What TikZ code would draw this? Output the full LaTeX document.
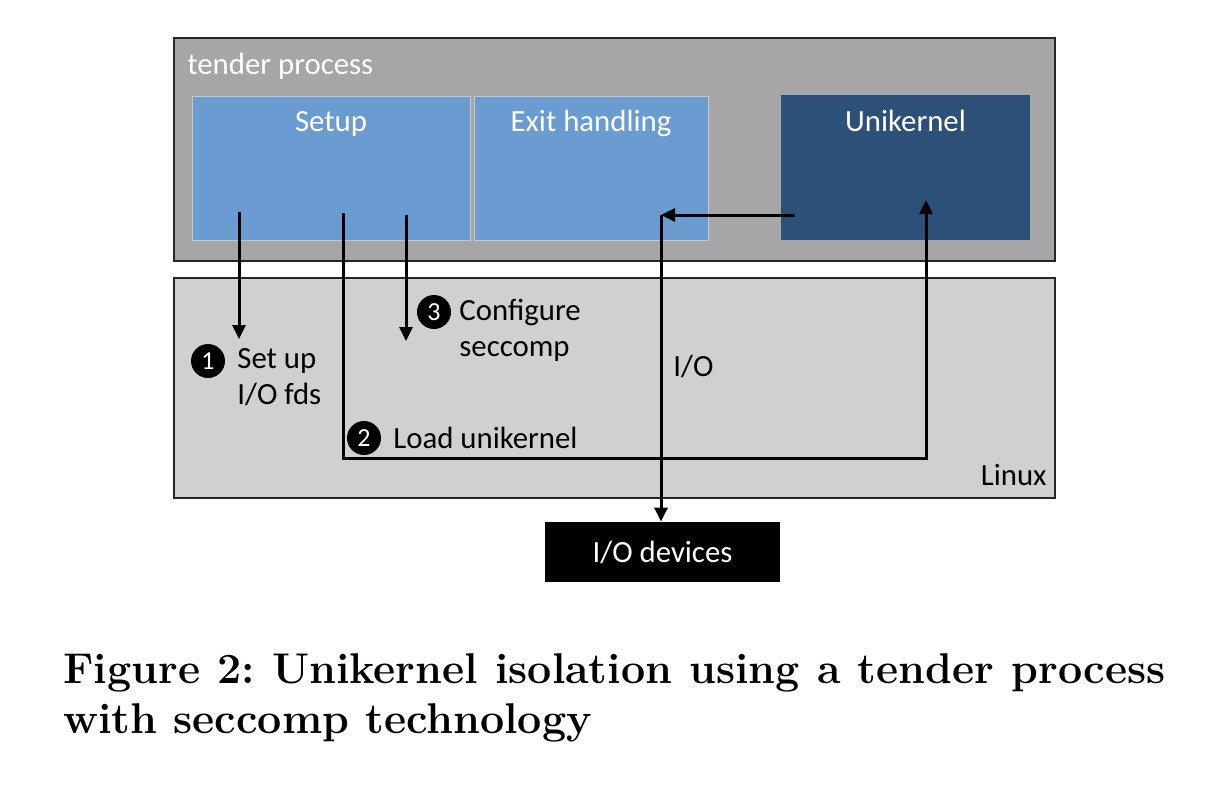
\documentclass[tikz,border=0pt]{standalone}
\usepackage{fontspec}
\usepackage{tikz}
\usetikzlibrary{arrows.meta}
\newfontfamily\carlito{Carlito}
\definecolor{tendergray}{HTML}{A6A6A6}
\definecolor{linuxgray}{HTML}{D0D0D0}
\definecolor{setupblue}{HTML}{6A9BD1}
\definecolor{ukblue}{HTML}{2D5079}
\definecolor{edgegray}{HTML}{C8C8C8}
\frenchspacing
\begin{document}
\begin{tikzpicture}[x=0.5pt,y=-0.5pt,
  font=\carlito\fontsize{15.4}{18}\selectfont,
  layer/.style={draw=black!85,line width=0.8pt,inner sep=0pt},
  part/.style={inner sep=0pt,minimum height=72pt},
  flow/.style={line width=1.5pt},
  tip/.style={-{Triangle[length=7pt,width=6.5pt]}},
  num/.style={circle,fill=black,text=white,inner sep=0pt,minimum size=17pt,font=\carlito\fontsize{13}{13}\selectfont},
  lbl/.style={anchor=base west,inner sep=0pt},
  caption/.style={anchor=base west,inner sep=0pt,font=\bfseries\fontsize{21.5}{26}\selectfont}]
  \useasboundingbox (0,0) rectangle (1206,784);
  % layers
  \node[layer,fill=tendergray,minimum width=440.5pt,minimum height=111.5pt] (tender) at (614.5,149.5) {};
  \node[layer,fill=linuxgray,minimum width=440.5pt,minimum height=110pt] (linux) at (614.5,388) {};
  \node[lbl,text=white] (tenderlbl) at (187,74) {tender process};
  \node[anchor=base east,inner sep=0pt] (linuxlbl) at (1047,485) {Linux};
  % parts of the tender
  \node[part,fill=setupblue,draw=edgegray,minimum width=139pt] (setup) at (331,168) {};
  \node[part,fill=setupblue,draw=edgegray,minimum width=117pt] (exit) at (591,168) {};
  \node[part,fill=ukblue,minimum width=124.5pt,minimum height=72.5pt] (uk) at (905.5,167.5) {};
  \node[anchor=base,text=white,inner sep=0pt] (setuplbl) at (331,131) {Setup};
  \node[anchor=base,text=white,inner sep=0pt] (exitlbl) at (591,131) {Exit handling};
  \node[anchor=base,text=white,inner sep=0pt] (uklbl) at (905.5,131) {Unikernel};
  % devices
  \node[fill=black,text=white,minimum width=117.5pt,minimum height=30pt,inner sep=0pt] (iodev) at (662.5,552) {I/O devices};
  % steps
  \coordinate (s1) at (239,212);
  \coordinate (e1) at (239,339);
  \coordinate (s2) at (343,213);
  \coordinate (c2) at (926,458);
  \coordinate (e2) at (926,200);
  \coordinate (s3) at (406,215);
  \coordinate (e3) at (406,341);
  \draw[flow,tip] (s1) -- (e1);
  \draw[flow,tip] (s2) |- (c2) -- (e2);
  \draw[flow,tip] (s3) -- (e3);
  \node[num] (n1) at (208,361) {1};
  \node[lbl] (step1a) at (237,368) {Set up};
  \node[lbl] (step1b) at (237,404) {I/O fds};
  \node[num] (n2) at (364,438) {2};
  \node[lbl] (step2) at (393,448) {Load unikernel};
  \node[num] (n3) at (434,312) {3};
  \node[lbl] (step3a) at (459,320) {Configure};
  \node[lbl] (step3b) at (459,356) {seccomp};
  % I/O path
  \coordinate (ios) at (795,215);
  \coordinate (ioc) at (661,215);
  \draw[flow,tip] (ios) -- (ioc);
  \draw[flow,tip] (ioc) -- (iodev.north -| ioc);
  \node[lbl] (iolbl) at (673,376) {I/O};
  % caption
  \node[caption] (cap1) at (63,683) {\makebox[551pt][s]{Figure 2: Unikernel isolation using a tender process}};
  \node[caption] (cap2) at (63,733) {with seccomp technology};
\end{tikzpicture}
\end{document}
